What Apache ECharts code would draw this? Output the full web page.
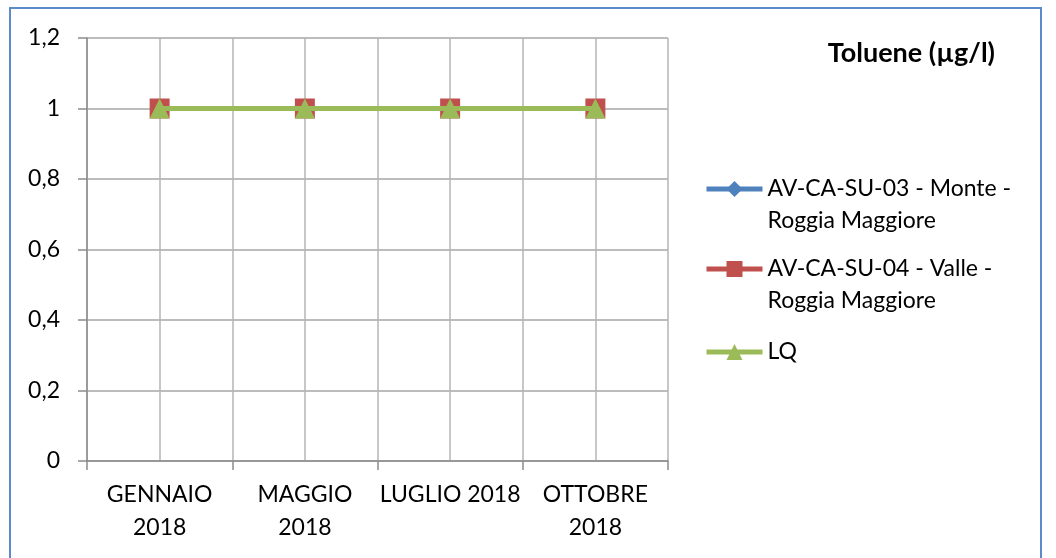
<!DOCTYPE html>
<html>
<head>
<meta charset="utf-8">
<script src="https://cdn.jsdelivr.net/npm/echarts@6/dist/echarts.min.js"></script>
<style>
html,body{margin:0;padding:0;background:#fff;}
#c{width:1056px;height:558px;}
</style>
</head>
<body>
<div id="c"></div>
<script>
const categories = ['GENNAIO\n2018', 'MAGGIO\n2018', 'LUGLIO 2018', 'OTTOBRE\n2018'];
const seriesNames = ['AV-CA-SU-03 - Monte - Roggia Maggiore', 'AV-CA-SU-04 - Valle - Roggia Maggiore', 'LQ'];
const legendLabels = ['\nAV-CA-SU-03 - Monte -\nRoggia Maggiore', '\nAV-CA-SU-04 - Valle -\nRoggia Maggiore', 'LQ'];
const monteValues = [1, 1, 1, 1];
const valleValues = [1, 1, 1, 1];
const lqValues = [1, 1, 1, 1];
const yTicks = [0, 0.2, 0.4, 0.6, 0.8, 1, 1.2];
const titleText = 'Toluene (\u00b5g/l)';

const FONT = 'Lato';
const FS = 23;
const chart = echarts.init(document.getElementById('c'), null, {renderer: 'canvas'});
const colors = ['#4f81bd', '#c0504d', '#9bbb59'];
const symbols = ['diamond', 'rect', 'triangle'];
const symbolSizes = [[14, 18], 20, 20];
const dataArr = [monteValues, valleValues, lqValues];
const legendTops = [136, 216, 331];

const option = {
  animation: false,
  backgroundColor: '#fff',
  title: {
    text: titleText,
    right: 56, top: 35,
    textStyle: {fontFamily: FONT, fontSize: 27, fontWeight: 'bold', color: '#000'}
  },
  legend: seriesNames.map((n, i) => ({
    orient: 'vertical',
    left: 699, top: legendTops[i],
    itemWidth: 56, itemHeight: 20,
    data: [n],
    formatter: function (name) { return legendLabels[seriesNames.indexOf(name)]; },
    textStyle: {fontFamily: FONT, fontSize: FS, color: '#000', lineHeight: 32},
    lineStyle: {width: 5},
    itemStyle: {borderWidth: 0}
  })),
  grid: {left: 87, right: 388, top: 38, bottom: 97},
  xAxis: [{
    type: 'category',
    data: categories,
    boundaryGap: true,
    axisLine: {show: true, lineStyle: {color: '#8c8c8c', width: 1.5}},
    axisTick: {show: true, length: 9, lineStyle: {color: '#8c8c8c', width: 1.5}},
    axisLabel: {fontFamily: FONT, fontSize: FS, color: '#000', lineHeight: 33, margin: 17, interval: 0},
    splitLine: {show: false}
  }, {
    type: 'value',
    min: 0, max: 8, interval: 1,
    gridIndex: 0,
    position: 'bottom',
    axisLine: {show: false}, axisTick: {show: false}, axisLabel: {show: false},
    splitLine: {show: true, lineStyle: {color: '#b4b4b4', width: 1.5}}
  }],
  yAxis: {
    type: 'value',
    min: 0, max: 1.2, interval: 0.2,
    axisLine: {show: true, lineStyle: {color: '#8c8c8c', width: 1.5}},
    axisTick: {show: true, length: 9, lineStyle: {color: '#8c8c8c', width: 1.5}},
    axisLabel: {
      fontFamily: FONT, fontSize: FS, color: '#000', margin: 27,
      formatter: function (v) {
        const m = yTicks.find(t => Math.abs(t - v) < 1e-9);
        return String(m !== undefined ? m : v).replace('.', ',');
      }
    },
    splitLine: {show: true, lineStyle: {color: '#a6a6a6', width: 1.5}}
  },
  series: seriesNames.map((n, i) => ({
    name: n,
    type: 'line',
    xAxisIndex: 0,
    data: dataArr[i],
    symbol: symbols[i],
    symbolSize: symbolSizes[i],
    showAllSymbol: true,
    lineStyle: {color: colors[i], width: 5},
    itemStyle: {color: colors[i], borderWidth: 0},
    z: 2 + i
  })),
  graphic: [{
    type: 'rect',
    shape: {x: 10, y: 8, width: 1031, height: 560},
    style: {fill: 'none', stroke: '#5b8bc9', lineWidth: 2},
    silent: true, z: -1
  }]
};
chart.setOption(option);
</script>
</body>
</html>
